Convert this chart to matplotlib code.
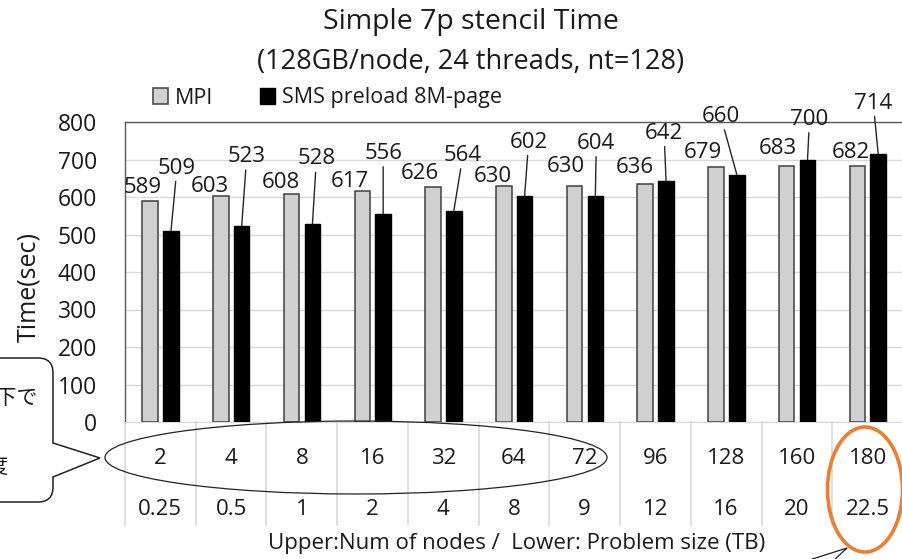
import numpy as np
import matplotlib
matplotlib.use("Agg")
import matplotlib.pyplot as plt
from matplotlib.patches import Ellipse, PathPatch
from matplotlib.path import Path

# upper / lower rows of the category table
nodes = ["2", "4", "8", "16", "32", "64", "72", "96", "128", "160", "180"]
size_tb = ["0.25", "0.5", "1", "2", "4", "8", "9", "12", "16", "20", "22.5"]

# elapsed time (sec)
mpi = [589, 603, 608, 617, 626, 630, 630, 636, 679, 683, 682]
sms = [509, 523, 528, 556, 564, 602, 604, 642, 660, 700, 714]

# value label offsets from the bar top, in pixels (dx, up)
mpi_off = [(-7, 14), (-11, 9), (-11, 12), (-12, 9), (-13, 14), (-11, 9),
           (-9, 19), (-10, 16), (-13, 15), (-9, 17), (-7, 14)]
sms_off = [(6, 63), (5, 69), (4, 65), (0, 60), (9, 55), (4, 54),
           (1, 52), (-2, 48), (-16, 58), (2, 40), (-5, 51)]

W, H = 903, 559
PX = 72 / 100  # points per pixel

plt.rcParams['font.family'] = ['Open Sans', 'DejaVu Sans']
plt.rcParams['text.color'] = '#1a1a1a'

fig = plt.figure(figsize=(W / 100, H / 100), dpi=100)
ax = fig.add_axes([125 / W, (H - 422) / H, (W - 125) / W, 300 / H])

x = np.arange(len(nodes))
bw = 0.22
b1 = ax.bar(x - 0.145, mpi, bw, color='#D0D0D0', edgecolor='#404040', lw=1.1, label='MPI', zorder=3)
b2 = ax.bar(x + 0.15, sms, bw, color='black', edgecolor='black', lw=1.0, label='SMS preload 8M-page', zorder=3)

ax.set_xlim(-0.5, 10.5)
ax.set_ylim(0, 800)
ax.set_yticks(range(0, 801, 100))
ax.set_xticks([])
ax.tick_params(axis='y', length=0, pad=20, labelsize=16.5, labelcolor='#1a1a1a')
ax.yaxis.grid(True, color='#D9D9D9', lw=1.0)
ax.set_axisbelow(True)
for side in ['left', 'top']:
    ax.spines[side].set_color('#595959')
    ax.spines[side].set_linewidth(1.0)
ax.spines['right'].set_visible(False)
ax.spines['bottom'].set_color('#D9D9D9')

# bar value labels
for xi, v, (dx, dy) in zip(x - 0.145, mpi, mpi_off):
    ax.annotate(str(v), (xi, v), xytext=(dx * PX, dy * PX), textcoords='offset points',
                ha='center', va='center', fontsize=16, zorder=4)
for xi, v, (dx, dy) in zip(x + 0.15, sms, sms_off):
    ax.annotate(str(v), (xi, v), xytext=(dx * PX, dy * PX), textcoords='offset points',
                ha='center', va='center', fontsize=16, zorder=4,
                arrowprops=dict(arrowstyle='-', color='#262626', lw=1.0, shrinkA=0, shrinkB=0))

# category table under the axis
tr = ax.get_xaxis_transform()
for b in np.arange(-0.5, 11):
    ax.plot([b, b], [0, -0.343], transform=tr, color='#D9D9D9', lw=1.2, clip_on=False)
for xi, n, s in zip(x, nodes, size_tb):
    ax.text(xi, -0.123, n, transform=tr, ha='center', va='center', fontsize=16)
    ax.text(xi, -0.292, s, transform=tr, ha='center', va='center', fontsize=16)

fig.text(517 / W, 1 - 543 / H, 'Upper:Num of nodes /  Lower: Problem size (TB)',
         ha='center', va='center', fontsize=16)
fig.text(29 / W, 1 - 287 / H, 'Time(sec)', rotation=90, ha='center', va='center', fontsize=18)
fig.text(471 / W, 1 - 22 / H, 'Simple 7p stencil Time', ha='center', va='center', fontsize=20.5)
fig.text(471 / W, 1 - 62 / H, '(128GB/node, 24 threads, nt=128)', ha='center', va='center', fontsize=19.5)

fig.legend(handles=[b1, b2], loc='center left', bbox_to_anchor=(153 / W, 1 - 98 / H), ncol=2,
           frameon=False, fontsize=15.5, handlelength=0.7, handleheight=0.7,
           handletextpad=0.3, columnspacing=2.2, borderaxespad=0, borderpad=0)

# callouts drawn in pixel space
ov = fig.add_axes([0, 0, 1, 1], zorder=5)
ov.set_xlim(0, W)
ov.set_ylim(H, 0)
ov.axis('off')
ov.patch.set_alpha(0)

M, L, C = Path.MOVETO, Path.LINETO, Path.CURVE3
verts = [(-60, 358), (38, 358), (53, 358), (53, 373), (53, 443), (100, 458), (53, 477),
         (53, 487), (53, 502), (38, 502), (-60, 502)]
codes = [M, L, C, C, L, L, L, L, C, C, L]
ov.add_patch(PathPatch(Path(verts, codes), fc='white', ec='#222222', lw=1.1))
cjk = ['Noto Sans CJK JP', 'DejaVu Sans']
ov.text(37, 398, '72ノード以下で', ha='right', va='center', fontsize=15, family=cjk)
ov.text(3, 434, 'SMSがMPIより高速、', ha='right', va='center', fontsize=15, family=cjk)
ov.text(9, 467, '以降も同程度', ha='right', va='center', fontsize=15, family=cjk)

ov.add_patch(Ellipse((356, 457.5), 502, 73, fill=False, ec='#222222', lw=0.9))
ov.add_patch(Ellipse((865, 489.5), 75, 125, fill=False, ec='#ED7D31', lw=2.6))
ov.plot([803, 847, 832], [562, 548, 562], color='#222222', lw=0.9)

fig.savefig('out.png', dpi=100)
